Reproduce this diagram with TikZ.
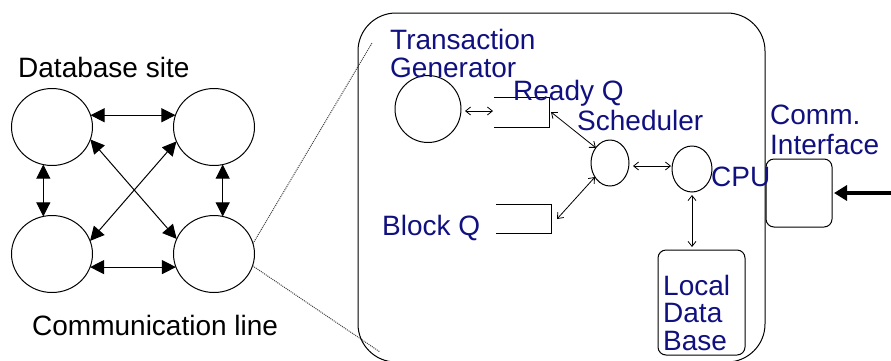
\documentclass[tikz,border=0pt]{standalone}
\usepackage{fontspec}
\setmainfont{Liberation Sans}
\usetikzlibrary{shapes.geometric, calc}
\usetikzlibrary{arrows.meta}
\definecolor{labelblue}{RGB}{16,16,128}
\tikzset{
  site/.style={draw, ellipse, line width=1pt, inner sep=0pt, outer sep=0pt, minimum width=81pt, minimum height=77pt},
  proc/.style={draw, ellipse, line width=1pt, inner sep=0pt, outer sep=0pt},
  link/.style={line width=1pt, {Triangle[length=14pt,width=14pt]}-{Triangle[length=14pt,width=14pt]}},
  flow/.style={line width=0.8pt, {Straight Barb[length=5pt,width=8pt]}-{Straight Barb[length=5pt,width=8pt]}},
  unit/.style={draw, rounded corners=8pt, line width=1pt, inner sep=0pt, outer sep=0pt},
  txt/.style={inner sep=0pt, font=\fontsize{28}{28}\selectfont},
  bluetxt/.style={txt, text=labelblue},
}

\begin{document}
\begin{tikzpicture}[x=1pt, y=-1pt]
    \useasboundingbox (0,0) rectangle (891,360);
    \clip (0,0) rectangle (891,360);

    % Draw the four database sites
    \node[site] (s1) at (52,127) {};
    \node[site] (s2) at (214,127) {};
    \node[site] (s3) at (52,254) {};
    \node[site] (s4) at (214,254) {};

    % Label the network
    \node[txt, anchor=base west] (sitelbl) at (18,77) {Database site};
    \node[txt, anchor=base west] (linelbl) at (32,335) {Communication line};

    % Communication lines between the sites
    \draw[link] (s1.17) -- (s2.163);
    \draw[link] (s3.-19) -- (s4.199);
    \draw[link] (s1.-103) -- (s3.103);
    \draw[link] (s2.-77) -- (s4.77);
    \draw[link] (s1.-18) -- (s4.158);
    \draw[link] (s2.201) -- (s3.19);

    % Zoom lines to the expanded site
    \coordinate (zoomtop) at (372,43);
    \coordinate (zoombot) at (380,352);
    \draw[black!75, densely dotted, line width=1pt] (s4.15) -- (zoomtop);
    \draw[black!75, densely dotted, line width=1pt] (s4.-17) -- (zoombot);

    % Draw the expanded site
    \draw[line width=1pt, rounded corners=38pt] (358,13) rectangle (765,362);

    % Processes inside the site
    \node[proc, minimum width=66pt, minimum height=67pt] (gen) at (428,109) {};
    \node[proc, minimum width=38pt, minimum height=46pt] (sched) at (610,163) {};
    \node[proc, minimum width=40pt, minimum height=46pt] (cpu) at (692,169) {};

    % Ready and block queues
    \draw[line width=1pt] (494,97) -| (549,127) -- (494,127);
    \draw[line width=1pt] (496,204) -| (551,233) -- (496,233);
    \coordinate (rqin) at (493,111);
    \coordinate (rqout) at (551,112);
    \coordinate (bqout) at (557,219);

    % Local data base and communication interface
    \node[unit, minimum width=87pt, minimum height=105pt] (ldb) at (701.5,302.5) {};
    \node[unit, minimum width=66pt, minimum height=68pt] (comm) at (799,193) {};
    \coordinate (net) at (905,193);

    % Labels
    \node[bluetxt, anchor=north west, align=left] (genlbl) at (390,28.7) {Transaction\\Generator};
    \node[bluetxt, anchor=base west] (rqlbl) at (513,100) {Ready Q};
    \node[bluetxt, anchor=base west] (schedlbl) at (577,130) {Scheduler};
    \node[bluetxt, anchor=base west] (bqlbl) at (382,235) {Block Q};
    \node[bluetxt, anchor=base west] (cpulbl) at (711,186) {CPU};
    \node[bluetxt, anchor=north west, align=left, font=\fontsize{28}{30}\selectfont] (commlbl) at (770,105) {Comm.\\Interface};
    \node[bluetxt, anchor=north west, align=left, font=\fontsize{28}{27.5}\selectfont] (ldblbl) at (663,275) {Local\\Data\\Base};

    % Arrows between the parts
    \draw[flow] ($(gen.east)+(4,2)$) -- (rqin);
    \draw[flow] (rqout) -- (sched.133);
    \draw[flow] (bqout) -- (sched.223);
    \draw[flow, shorten <=4pt, shorten >=1pt] (sched.east |- 0,166) -- (cpu.west |- 0,166);
    \draw[flow, shorten <=3pt, shorten >=3pt] (cpu.south) -- (cpu.south |- ldb.north);
    \draw[line width=4pt, {Triangle[length=13pt,width=15pt]}-{Triangle[length=13pt,width=15pt]}] ($(comm.east)+(2,0)$) -- (net);
\end{tikzpicture}
\end{document}
